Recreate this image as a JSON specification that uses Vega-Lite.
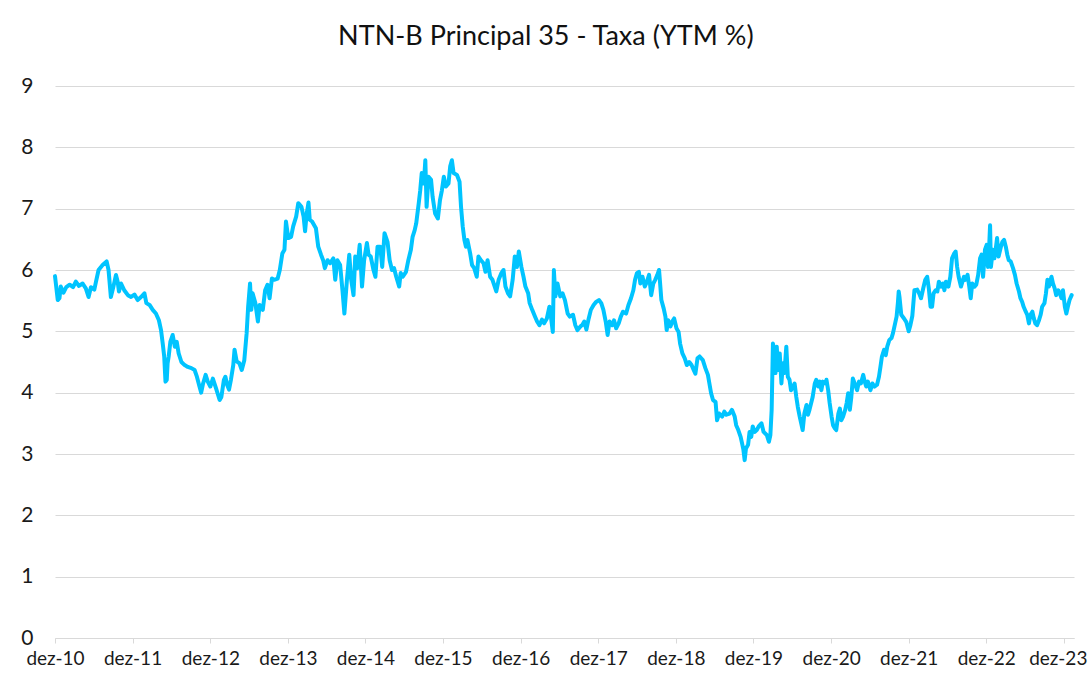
{
  "$schema": "https://vega.github.io/schema/vega-lite/v6.json",
  "width": 1019,
  "height": 552,
  "autosize": {"type": "none"},
  "padding": {"left": 55, "top": 86, "right": 14, "bottom": 40},
  "background": "white",
  "config": {"view": {"stroke": null}},
  "title": {"text": "NTN-B Principal 35 - Taxa (YTM %)", "font": "Lato", "fontSize": 27, "fontWeight": "normal", "color": "#111111", "anchor": "middle", "frame": "bounds", "baseline": "alphabetic", "offset": 3, "dx": -8},
  "data": {"values": [
    {"data": "2010-12-01", "taxa": 5.90}, {"data": "2010-12-14", "taxa": 5.51}, {"data": "2010-12-22", "taxa": 5.54}, {"data": "2010-12-28", "taxa": 5.73},
    {"data": "2011-01-10", "taxa": 5.63}, {"data": "2011-01-23", "taxa": 5.72}, {"data": "2011-02-08", "taxa": 5.76}, {"data": "2011-02-24", "taxa": 5.72},
    {"data": "2011-03-09", "taxa": 5.81}, {"data": "2011-03-24", "taxa": 5.74}, {"data": "2011-04-10", "taxa": 5.78}, {"data": "2011-04-25", "taxa": 5.70},
    {"data": "2011-05-08", "taxa": 5.56}, {"data": "2011-05-19", "taxa": 5.72}, {"data": "2011-06-04", "taxa": 5.68}, {"data": "2011-06-12", "taxa": 5.81},
    {"data": "2011-06-24", "taxa": 6.00}, {"data": "2011-07-13", "taxa": 6.08}, {"data": "2011-08-01", "taxa": 6.14}, {"data": "2011-08-10", "taxa": 6.00},
    {"data": "2011-08-21", "taxa": 5.56}, {"data": "2011-09-02", "taxa": 5.73}, {"data": "2011-09-14", "taxa": 5.92}, {"data": "2011-09-22", "taxa": 5.81},
    {"data": "2011-09-28", "taxa": 5.65}, {"data": "2011-10-08", "taxa": 5.78}, {"data": "2011-10-23", "taxa": 5.67}, {"data": "2011-11-09", "taxa": 5.59},
    {"data": "2011-11-24", "taxa": 5.56}, {"data": "2011-12-10", "taxa": 5.60}, {"data": "2011-12-25", "taxa": 5.51}, {"data": "2012-01-10", "taxa": 5.56},
    {"data": "2012-01-26", "taxa": 5.62}, {"data": "2012-02-04", "taxa": 5.46}, {"data": "2012-02-19", "taxa": 5.43}, {"data": "2012-03-05", "taxa": 5.35},
    {"data": "2012-03-20", "taxa": 5.29}, {"data": "2012-04-03", "taxa": 5.18}, {"data": "2012-04-13", "taxa": 5.02}, {"data": "2012-04-21", "taxa": 4.80},
    {"data": "2012-04-28", "taxa": 4.59}, {"data": "2012-05-04", "taxa": 4.18}, {"data": "2012-05-10", "taxa": 4.21}, {"data": "2012-05-14", "taxa": 4.48},
    {"data": "2012-05-19", "taxa": 4.59}, {"data": "2012-05-27", "taxa": 4.83}, {"data": "2012-06-07", "taxa": 4.94}, {"data": "2012-06-17", "taxa": 4.75},
    {"data": "2012-06-26", "taxa": 4.83}, {"data": "2012-07-05", "taxa": 4.64}, {"data": "2012-07-18", "taxa": 4.50}, {"data": "2012-08-02", "taxa": 4.45},
    {"data": "2012-08-17", "taxa": 4.42}, {"data": "2012-09-03", "taxa": 4.40}, {"data": "2012-09-18", "taxa": 4.37}, {"data": "2012-09-28", "taxa": 4.27},
    {"data": "2012-10-11", "taxa": 4.10}, {"data": "2012-10-19", "taxa": 4.00}, {"data": "2012-10-28", "taxa": 4.15}, {"data": "2012-11-09", "taxa": 4.29},
    {"data": "2012-11-19", "taxa": 4.18}, {"data": "2012-12-01", "taxa": 4.10}, {"data": "2012-12-13", "taxa": 4.23}, {"data": "2012-12-28", "taxa": 4.07},
    {"data": "2013-01-14", "taxa": 3.88}, {"data": "2013-01-22", "taxa": 3.93}, {"data": "2013-02-03", "taxa": 4.21}, {"data": "2013-02-10", "taxa": 4.26},
    {"data": "2013-02-18", "taxa": 4.13}, {"data": "2013-02-27", "taxa": 4.05}, {"data": "2013-03-08", "taxa": 4.21}, {"data": "2013-03-19", "taxa": 4.45},
    {"data": "2013-03-25", "taxa": 4.70}, {"data": "2013-04-04", "taxa": 4.51}, {"data": "2013-04-17", "taxa": 4.48}, {"data": "2013-04-28", "taxa": 4.37},
    {"data": "2013-05-10", "taxa": 4.53}, {"data": "2013-05-21", "taxa": 4.97}, {"data": "2013-05-28", "taxa": 5.40}, {"data": "2013-06-06", "taxa": 5.78},
    {"data": "2013-06-12", "taxa": 5.35}, {"data": "2013-06-18", "taxa": 5.62}, {"data": "2013-07-01", "taxa": 5.46}, {"data": "2013-07-13", "taxa": 5.16},
    {"data": "2013-07-21", "taxa": 5.43}, {"data": "2013-08-05", "taxa": 5.35}, {"data": "2013-08-16", "taxa": 5.67}, {"data": "2013-08-27", "taxa": 5.76},
    {"data": "2013-09-06", "taxa": 5.54}, {"data": "2013-09-17", "taxa": 5.86}, {"data": "2013-09-27", "taxa": 5.84}, {"data": "2013-10-14", "taxa": 5.86},
    {"data": "2013-10-24", "taxa": 6.00}, {"data": "2013-11-05", "taxa": 6.27}, {"data": "2013-11-15", "taxa": 6.33}, {"data": "2013-11-22", "taxa": 6.79},
    {"data": "2013-12-03", "taxa": 6.52}, {"data": "2013-12-16", "taxa": 6.54}, {"data": "2013-12-26", "taxa": 6.71}, {"data": "2014-01-09", "taxa": 6.87},
    {"data": "2014-01-19", "taxa": 7.09}, {"data": "2014-02-03", "taxa": 7.03}, {"data": "2014-02-13", "taxa": 6.87}, {"data": "2014-02-20", "taxa": 6.63},
    {"data": "2014-02-27", "taxa": 6.90}, {"data": "2014-03-08", "taxa": 7.10}, {"data": "2014-03-14", "taxa": 6.82}, {"data": "2014-03-25", "taxa": 6.79},
    {"data": "2014-04-12", "taxa": 6.68}, {"data": "2014-04-23", "taxa": 6.38}, {"data": "2014-05-06", "taxa": 6.25}, {"data": "2014-05-16", "taxa": 6.16},
    {"data": "2014-05-24", "taxa": 6.03}, {"data": "2014-06-06", "taxa": 6.16}, {"data": "2014-06-18", "taxa": 6.11}, {"data": "2014-07-03", "taxa": 6.19},
    {"data": "2014-07-12", "taxa": 5.84}, {"data": "2014-07-22", "taxa": 6.16}, {"data": "2014-08-04", "taxa": 6.08}, {"data": "2014-08-15", "taxa": 5.67},
    {"data": "2014-08-24", "taxa": 5.29}, {"data": "2014-09-05", "taxa": 5.84}, {"data": "2014-09-16", "taxa": 6.25}, {"data": "2014-09-25", "taxa": 5.84},
    {"data": "2014-10-06", "taxa": 5.59}, {"data": "2014-10-14", "taxa": 6.22}, {"data": "2014-10-24", "taxa": 6.03}, {"data": "2014-11-04", "taxa": 6.41},
    {"data": "2014-11-15", "taxa": 5.73}, {"data": "2014-11-25", "taxa": 6.16}, {"data": "2014-12-08", "taxa": 6.44}, {"data": "2014-12-16", "taxa": 6.25},
    {"data": "2014-12-26", "taxa": 6.22}, {"data": "2015-01-08", "taxa": 6.00}, {"data": "2015-01-17", "taxa": 5.89}, {"data": "2015-01-27", "taxa": 6.38},
    {"data": "2015-02-09", "taxa": 6.38}, {"data": "2015-02-18", "taxa": 6.05}, {"data": "2015-03-01", "taxa": 6.60}, {"data": "2015-03-15", "taxa": 6.46},
    {"data": "2015-03-25", "taxa": 6.16}, {"data": "2015-04-05", "taxa": 6.00}, {"data": "2015-04-15", "taxa": 6.03}, {"data": "2015-04-25", "taxa": 5.89},
    {"data": "2015-05-09", "taxa": 5.73}, {"data": "2015-05-16", "taxa": 5.95}, {"data": "2015-05-26", "taxa": 5.89}, {"data": "2015-06-10", "taxa": 5.97},
    {"data": "2015-06-21", "taxa": 6.16}, {"data": "2015-07-03", "taxa": 6.33}, {"data": "2015-07-11", "taxa": 6.54}, {"data": "2015-07-21", "taxa": 6.65},
    {"data": "2015-07-28", "taxa": 6.76}, {"data": "2015-08-09", "taxa": 7.09}, {"data": "2015-08-16", "taxa": 7.30}, {"data": "2015-08-23", "taxa": 7.58},
    {"data": "2015-09-02", "taxa": 7.41}, {"data": "2015-09-09", "taxa": 7.79}, {"data": "2015-09-15", "taxa": 7.03}, {"data": "2015-09-24", "taxa": 7.52},
    {"data": "2015-10-06", "taxa": 7.47}, {"data": "2015-10-13", "taxa": 7.20}, {"data": "2015-10-25", "taxa": 6.92}, {"data": "2015-11-07", "taxa": 6.84},
    {"data": "2015-11-17", "taxa": 7.14}, {"data": "2015-11-26", "taxa": 7.30}, {"data": "2015-12-05", "taxa": 7.52}, {"data": "2015-12-15", "taxa": 7.36},
    {"data": "2015-12-27", "taxa": 7.41}, {"data": "2016-01-04", "taxa": 7.69}, {"data": "2016-01-12", "taxa": 7.79}, {"data": "2016-01-20", "taxa": 7.58},
    {"data": "2016-02-05", "taxa": 7.55}, {"data": "2016-02-17", "taxa": 7.44}, {"data": "2016-02-24", "taxa": 7.03}, {"data": "2016-03-03", "taxa": 6.71},
    {"data": "2016-03-11", "taxa": 6.49}, {"data": "2016-03-18", "taxa": 6.38}, {"data": "2016-03-25", "taxa": 6.49}, {"data": "2016-04-07", "taxa": 6.27},
    {"data": "2016-04-16", "taxa": 6.08}, {"data": "2016-04-26", "taxa": 6.03}, {"data": "2016-05-08", "taxa": 5.89}, {"data": "2016-05-16", "taxa": 6.22},
    {"data": "2016-05-27", "taxa": 6.16}, {"data": "2016-06-09", "taxa": 6.11}, {"data": "2016-06-18", "taxa": 5.97}, {"data": "2016-06-28", "taxa": 6.16},
    {"data": "2016-07-10", "taxa": 5.89}, {"data": "2016-07-21", "taxa": 5.84}, {"data": "2016-08-08", "taxa": 5.65}, {"data": "2016-08-19", "taxa": 5.84},
    {"data": "2016-09-01", "taxa": 5.95}, {"data": "2016-09-11", "taxa": 6.00}, {"data": "2016-09-20", "taxa": 5.73}, {"data": "2016-10-02", "taxa": 5.62},
    {"data": "2016-10-12", "taxa": 5.57}, {"data": "2016-10-24", "taxa": 5.84}, {"data": "2016-11-03", "taxa": 6.22}, {"data": "2016-11-13", "taxa": 6.05},
    {"data": "2016-11-22", "taxa": 6.30}, {"data": "2016-12-04", "taxa": 6.05}, {"data": "2016-12-14", "taxa": 5.89}, {"data": "2016-12-23", "taxa": 5.73},
    {"data": "2017-01-05", "taxa": 5.62}, {"data": "2017-01-12", "taxa": 5.46}, {"data": "2017-01-24", "taxa": 5.35}, {"data": "2017-02-06", "taxa": 5.24},
    {"data": "2017-02-16", "taxa": 5.16}, {"data": "2017-02-27", "taxa": 5.10}, {"data": "2017-03-11", "taxa": 5.19}, {"data": "2017-03-21", "taxa": 5.13},
    {"data": "2017-04-03", "taxa": 5.21}, {"data": "2017-04-15", "taxa": 5.40}, {"data": "2017-04-22", "taxa": 5.24}, {"data": "2017-05-01", "taxa": 4.99},
    {"data": "2017-05-06", "taxa": 6.00}, {"data": "2017-05-13", "taxa": 5.57}, {"data": "2017-05-23", "taxa": 5.78}, {"data": "2017-06-05", "taxa": 5.57},
    {"data": "2017-06-16", "taxa": 5.62}, {"data": "2017-06-27", "taxa": 5.51}, {"data": "2017-07-10", "taxa": 5.29}, {"data": "2017-07-20", "taxa": 5.24},
    {"data": "2017-08-04", "taxa": 5.27}, {"data": "2017-08-15", "taxa": 5.10}, {"data": "2017-08-25", "taxa": 5.02}, {"data": "2017-09-08", "taxa": 5.08},
    {"data": "2017-09-16", "taxa": 5.10}, {"data": "2017-09-26", "taxa": 5.16}, {"data": "2017-10-06", "taxa": 5.03}, {"data": "2017-10-17", "taxa": 5.21},
    {"data": "2017-10-27", "taxa": 5.35}, {"data": "2017-11-09", "taxa": 5.43}, {"data": "2017-11-21", "taxa": 5.48}, {"data": "2017-12-04", "taxa": 5.51},
    {"data": "2017-12-15", "taxa": 5.46}, {"data": "2017-12-25", "taxa": 5.35}, {"data": "2018-01-05", "taxa": 5.16}, {"data": "2018-01-14", "taxa": 4.94},
    {"data": "2018-01-23", "taxa": 5.16}, {"data": "2018-02-05", "taxa": 5.10}, {"data": "2018-02-13", "taxa": 5.18}, {"data": "2018-02-23", "taxa": 5.05},
    {"data": "2018-03-07", "taxa": 5.13}, {"data": "2018-03-17", "taxa": 5.24}, {"data": "2018-03-27", "taxa": 5.32}, {"data": "2018-04-11", "taxa": 5.29},
    {"data": "2018-04-22", "taxa": 5.43}, {"data": "2018-05-04", "taxa": 5.54}, {"data": "2018-05-15", "taxa": 5.67}, {"data": "2018-05-23", "taxa": 5.84},
    {"data": "2018-06-01", "taxa": 5.95}, {"data": "2018-06-10", "taxa": 5.97}, {"data": "2018-06-17", "taxa": 5.78}, {"data": "2018-06-27", "taxa": 5.89},
    {"data": "2018-07-08", "taxa": 5.73}, {"data": "2018-07-18", "taxa": 5.81}, {"data": "2018-07-28", "taxa": 5.92}, {"data": "2018-08-07", "taxa": 5.59},
    {"data": "2018-08-17", "taxa": 5.78}, {"data": "2018-08-26", "taxa": 5.84}, {"data": "2018-09-05", "taxa": 5.92}, {"data": "2018-09-13", "taxa": 6.00},
    {"data": "2018-09-18", "taxa": 5.78}, {"data": "2018-09-24", "taxa": 5.51}, {"data": "2018-10-05", "taxa": 5.37}, {"data": "2018-10-13", "taxa": 5.24},
    {"data": "2018-10-19", "taxa": 5.02}, {"data": "2018-10-26", "taxa": 5.18}, {"data": "2018-11-06", "taxa": 5.08}, {"data": "2018-11-14", "taxa": 5.16},
    {"data": "2018-11-23", "taxa": 5.21}, {"data": "2018-12-04", "taxa": 5.05}, {"data": "2018-12-14", "taxa": 4.99}, {"data": "2018-12-21", "taxa": 4.80},
    {"data": "2019-01-01", "taxa": 4.64}, {"data": "2019-01-12", "taxa": 4.56}, {"data": "2019-01-22", "taxa": 4.45}, {"data": "2019-02-02", "taxa": 4.50},
    {"data": "2019-02-13", "taxa": 4.45}, {"data": "2019-02-23", "taxa": 4.37}, {"data": "2019-03-03", "taxa": 4.31}, {"data": "2019-03-13", "taxa": 4.56},
    {"data": "2019-03-23", "taxa": 4.59}, {"data": "2019-04-07", "taxa": 4.53}, {"data": "2019-04-19", "taxa": 4.40}, {"data": "2019-05-01", "taxa": 4.29},
    {"data": "2019-05-08", "taxa": 4.15}, {"data": "2019-05-16", "taxa": 3.99}, {"data": "2019-05-25", "taxa": 3.88}, {"data": "2019-06-06", "taxa": 3.85},
    {"data": "2019-06-13", "taxa": 3.55}, {"data": "2019-06-23", "taxa": 3.66}, {"data": "2019-07-07", "taxa": 3.61}, {"data": "2019-07-17", "taxa": 3.69},
    {"data": "2019-07-27", "taxa": 3.64}, {"data": "2019-08-11", "taxa": 3.66}, {"data": "2019-08-22", "taxa": 3.72}, {"data": "2019-09-04", "taxa": 3.61},
    {"data": "2019-09-11", "taxa": 3.47}, {"data": "2019-09-21", "taxa": 3.39}, {"data": "2019-10-02", "taxa": 3.28}, {"data": "2019-10-09", "taxa": 3.17},
    {"data": "2019-10-15", "taxa": 3.07}, {"data": "2019-10-21", "taxa": 2.90}, {"data": "2019-10-27", "taxa": 3.09}, {"data": "2019-11-06", "taxa": 3.15},
    {"data": "2019-11-13", "taxa": 3.36}, {"data": "2019-11-21", "taxa": 3.28}, {"data": "2019-11-28", "taxa": 3.45}, {"data": "2019-12-07", "taxa": 3.36},
    {"data": "2019-12-17", "taxa": 3.39}, {"data": "2019-12-26", "taxa": 3.45}, {"data": "2020-01-08", "taxa": 3.50}, {"data": "2020-01-18", "taxa": 3.36},
    {"data": "2020-02-02", "taxa": 3.31}, {"data": "2020-02-12", "taxa": 3.20}, {"data": "2020-02-19", "taxa": 3.31}, {"data": "2020-02-25", "taxa": 3.72},
    {"data": "2020-03-02", "taxa": 4.80}, {"data": "2020-03-08", "taxa": 4.70}, {"data": "2020-03-14", "taxa": 4.32}, {"data": "2020-03-20", "taxa": 4.75},
    {"data": "2020-03-26", "taxa": 4.37}, {"data": "2020-04-03", "taxa": 4.64}, {"data": "2020-04-11", "taxa": 4.15}, {"data": "2020-04-18", "taxa": 4.48},
    {"data": "2020-04-25", "taxa": 4.32}, {"data": "2020-05-04", "taxa": 4.75}, {"data": "2020-05-11", "taxa": 4.26}, {"data": "2020-05-19", "taxa": 4.21},
    {"data": "2020-05-26", "taxa": 4.04}, {"data": "2020-06-05", "taxa": 4.10}, {"data": "2020-06-12", "taxa": 4.15}, {"data": "2020-06-20", "taxa": 3.93},
    {"data": "2020-06-27", "taxa": 3.77}, {"data": "2020-07-06", "taxa": 3.61}, {"data": "2020-07-13", "taxa": 3.50}, {"data": "2020-07-20", "taxa": 3.39},
    {"data": "2020-07-28", "taxa": 3.66}, {"data": "2020-08-07", "taxa": 3.80}, {"data": "2020-08-14", "taxa": 3.64}, {"data": "2020-08-21", "taxa": 3.72},
    {"data": "2020-09-05", "taxa": 3.93}, {"data": "2020-09-15", "taxa": 4.15}, {"data": "2020-09-22", "taxa": 4.21}, {"data": "2020-10-01", "taxa": 4.10},
    {"data": "2020-10-09", "taxa": 4.18}, {"data": "2020-10-16", "taxa": 4.04}, {"data": "2020-10-23", "taxa": 4.18}, {"data": "2020-11-04", "taxa": 4.15},
    {"data": "2020-11-09", "taxa": 4.21}, {"data": "2020-11-17", "taxa": 4.04}, {"data": "2020-11-24", "taxa": 3.83}, {"data": "2020-12-03", "taxa": 3.61},
    {"data": "2020-12-10", "taxa": 3.47}, {"data": "2020-12-18", "taxa": 3.42}, {"data": "2020-12-25", "taxa": 3.39}, {"data": "2021-01-04", "taxa": 3.66},
    {"data": "2021-01-11", "taxa": 3.74}, {"data": "2021-01-18", "taxa": 3.55}, {"data": "2021-01-26", "taxa": 3.61}, {"data": "2021-02-05", "taxa": 3.72},
    {"data": "2021-02-12", "taxa": 3.83}, {"data": "2021-02-19", "taxa": 3.99}, {"data": "2021-02-27", "taxa": 3.72}, {"data": "2021-03-06", "taxa": 3.93},
    {"data": "2021-03-13", "taxa": 4.23}, {"data": "2021-03-22", "taxa": 4.15}, {"data": "2021-04-02", "taxa": 4.04}, {"data": "2021-04-11", "taxa": 4.18},
    {"data": "2021-04-20", "taxa": 4.15}, {"data": "2021-05-01", "taxa": 4.29}, {"data": "2021-05-08", "taxa": 4.18}, {"data": "2021-05-15", "taxa": 4.10},
    {"data": "2021-05-23", "taxa": 4.18}, {"data": "2021-06-04", "taxa": 4.04}, {"data": "2021-06-13", "taxa": 4.15}, {"data": "2021-06-23", "taxa": 4.10},
    {"data": "2021-07-05", "taxa": 4.13}, {"data": "2021-07-14", "taxa": 4.26}, {"data": "2021-07-21", "taxa": 4.42}, {"data": "2021-07-28", "taxa": 4.59},
    {"data": "2021-08-07", "taxa": 4.70}, {"data": "2021-08-15", "taxa": 4.61}, {"data": "2021-08-22", "taxa": 4.75}, {"data": "2021-09-01", "taxa": 4.86},
    {"data": "2021-09-11", "taxa": 4.89}, {"data": "2021-09-18", "taxa": 4.97}, {"data": "2021-09-25", "taxa": 5.08}, {"data": "2021-10-05", "taxa": 5.24},
    {"data": "2021-10-11", "taxa": 5.46}, {"data": "2021-10-15", "taxa": 5.65}, {"data": "2021-10-19", "taxa": 5.55}, {"data": "2021-10-27", "taxa": 5.27},
    {"data": "2021-11-09", "taxa": 5.21}, {"data": "2021-11-20", "taxa": 5.15}, {"data": "2021-12-01", "taxa": 5.00}, {"data": "2021-12-09", "taxa": 5.10},
    {"data": "2021-12-18", "taxa": 5.25}, {"data": "2021-12-28", "taxa": 5.67}, {"data": "2022-01-10", "taxa": 5.68}, {"data": "2022-01-19", "taxa": 5.62},
    {"data": "2022-01-28", "taxa": 5.54}, {"data": "2022-02-08", "taxa": 5.71}, {"data": "2022-02-17", "taxa": 5.84}, {"data": "2022-02-26", "taxa": 5.89},
    {"data": "2022-03-06", "taxa": 5.69}, {"data": "2022-03-14", "taxa": 5.40}, {"data": "2022-03-21", "taxa": 5.40}, {"data": "2022-03-28", "taxa": 5.62},
    {"data": "2022-04-07", "taxa": 5.67}, {"data": "2022-04-15", "taxa": 5.65}, {"data": "2022-04-22", "taxa": 5.81}, {"data": "2022-05-02", "taxa": 5.73},
    {"data": "2022-05-11", "taxa": 5.78}, {"data": "2022-05-18", "taxa": 5.67}, {"data": "2022-05-25", "taxa": 5.81}, {"data": "2022-06-06", "taxa": 5.73},
    {"data": "2022-06-15", "taxa": 5.89}, {"data": "2022-06-23", "taxa": 6.19}, {"data": "2022-07-03", "taxa": 6.27}, {"data": "2022-07-10", "taxa": 6.30},
    {"data": "2022-07-17", "taxa": 6.05}, {"data": "2022-07-24", "taxa": 5.89}, {"data": "2022-08-04", "taxa": 5.73}, {"data": "2022-08-11", "taxa": 5.81},
    {"data": "2022-08-18", "taxa": 5.89}, {"data": "2022-08-25", "taxa": 5.84}, {"data": "2022-09-04", "taxa": 5.92}, {"data": "2022-09-12", "taxa": 5.73},
    {"data": "2022-09-19", "taxa": 5.54}, {"data": "2022-09-26", "taxa": 5.78}, {"data": "2022-10-07", "taxa": 5.73}, {"data": "2022-10-15", "taxa": 5.76},
    {"data": "2022-10-24", "taxa": 5.92}, {"data": "2022-11-02", "taxa": 6.19}, {"data": "2022-11-09", "taxa": 6.25}, {"data": "2022-11-16", "taxa": 5.89},
    {"data": "2022-11-25", "taxa": 6.33}, {"data": "2022-12-03", "taxa": 6.41}, {"data": "2022-12-09", "taxa": 6.05}, {"data": "2022-12-14", "taxa": 6.33},
    {"data": "2022-12-19", "taxa": 6.73}, {"data": "2022-12-23", "taxa": 6.05}, {"data": "2023-01-01", "taxa": 6.33}, {"data": "2023-01-08", "taxa": 6.19},
    {"data": "2023-01-15", "taxa": 6.35}, {"data": "2023-01-21", "taxa": 6.52}, {"data": "2023-01-28", "taxa": 6.22}, {"data": "2023-02-08", "taxa": 6.38},
    {"data": "2023-02-15", "taxa": 6.46}, {"data": "2023-02-23", "taxa": 6.49}, {"data": "2023-03-03", "taxa": 6.38}, {"data": "2023-03-10", "taxa": 6.25},
    {"data": "2023-03-17", "taxa": 6.16}, {"data": "2023-03-26", "taxa": 6.14}, {"data": "2023-04-06", "taxa": 6.03}, {"data": "2023-04-15", "taxa": 5.92},
    {"data": "2023-04-23", "taxa": 5.78}, {"data": "2023-05-04", "taxa": 5.65}, {"data": "2023-05-11", "taxa": 5.54}, {"data": "2023-05-19", "taxa": 5.48},
    {"data": "2023-05-26", "taxa": 5.40}, {"data": "2023-06-05", "taxa": 5.32}, {"data": "2023-06-12", "taxa": 5.27}, {"data": "2023-06-20", "taxa": 5.13},
    {"data": "2023-06-27", "taxa": 5.27}, {"data": "2023-07-06", "taxa": 5.32}, {"data": "2023-07-13", "taxa": 5.21}, {"data": "2023-07-20", "taxa": 5.13},
    {"data": "2023-07-28", "taxa": 5.10}, {"data": "2023-08-07", "taxa": 5.19}, {"data": "2023-08-14", "taxa": 5.27}, {"data": "2023-08-21", "taxa": 5.40},
    {"data": "2023-09-01", "taxa": 5.46}, {"data": "2023-09-08", "taxa": 5.62}, {"data": "2023-09-15", "taxa": 5.84}, {"data": "2023-09-22", "taxa": 5.73},
    {"data": "2023-10-04", "taxa": 5.89}, {"data": "2023-10-11", "taxa": 5.78}, {"data": "2023-10-19", "taxa": 5.70}, {"data": "2023-10-26", "taxa": 5.59},
    {"data": "2023-11-05", "taxa": 5.67}, {"data": "2023-11-12", "taxa": 5.62}, {"data": "2023-11-20", "taxa": 5.54}, {"data": "2023-11-27", "taxa": 5.67},
    {"data": "2023-12-06", "taxa": 5.40}, {"data": "2023-12-13", "taxa": 5.29}, {"data": "2023-12-20", "taxa": 5.40}, {"data": "2023-12-28", "taxa": 5.51},
    {"data": "2024-01-07", "taxa": 5.59}
  ]},
  "mark": {"type": "line", "color": "#00c4ff", "strokeWidth": 4, "strokeJoin": "round", "strokeCap": "round"},
  "encoding": {
    "x": {
      "field": "data", "type": "temporal",
      "scale": {"domain": [{"year": 2010, "month": 12, "date": 1}, {"year": 2024, "month": 1, "date": 18}]},
      "axis": {
        "title": null,
        "values": [
          {"year": 2010, "month": 12, "date": 1}, {"year": 2011, "month": 12, "date": 1}, {"year": 2012, "month": 12, "date": 1},
          {"year": 2013, "month": 12, "date": 1}, {"year": 2014, "month": 12, "date": 1}, {"year": 2015, "month": 12, "date": 1},
          {"year": 2016, "month": 12, "date": 1}, {"year": 2017, "month": 12, "date": 1}, {"year": 2018, "month": 12, "date": 1},
          {"year": 2019, "month": 12, "date": 1}, {"year": 2020, "month": 12, "date": 1}, {"year": 2021, "month": 12, "date": 1},
          {"year": 2022, "month": 12, "date": 1}, {"year": 2023, "month": 12, "date": 1}
        ],
        "labelExpr": "'dez-' + timeFormat(datum.value, '%y')",
        "labelFont": "Lato", "labelFontSize": 19, "labelColor": "#1a1a1a",
        "labelFlush": false, "labelOverlap": false,
        "labelOffset": {"condition": {"test": "year(datum.value) == 2023", "value": -6}, "value": 0},
        "domainColor": "#d9d9d9", "domainWidth": 1.2,
        "tickColor": "#d9d9d9", "tickSize": 5, "labelPadding": 6,
        "grid": false
      }
    },
    "y": {
      "field": "taxa", "type": "quantitative",
      "scale": {"domain": [0, 9], "nice": false, "zero": true},
      "axis": {
        "title": null,
        "values": [0, 1, 2, 3, 4, 5, 6, 7, 8, 9],
        "labelFont": "Lato", "labelFontSize": 21, "labelColor": "#1a1a1a",
        "domain": false, "ticks": false, "labelPadding": 22,
        "grid": true, "gridColor": "#d9d9d9", "gridWidth": 1.2
      }
    }
  }
}
